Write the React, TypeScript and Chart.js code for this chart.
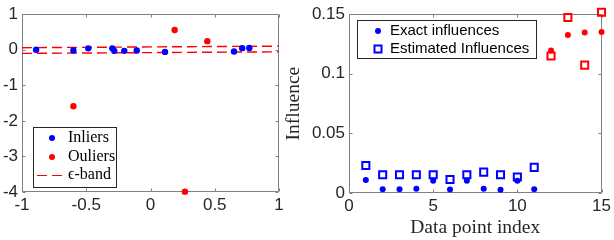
import React, { useEffect, useRef } from "react";
import { Chart, registerables } from "chart.js";

Chart.register(...registerables);

// ---------- Left panel data ----------
const inlierX = [-0.89, -0.6, -0.484, -0.297, -0.282, -0.204, -0.107, 0.113, 0.65, 0.714, 0.769];
const inlierY = [0.0, -0.02, 0.04, 0.04, -0.03, -0.03, -0.02, -0.06, -0.05, 0.045, 0.05];
const outlierX = [-0.6, 0.188, 0.268, 0.442];
const outlierY = [-1.59, 0.556, -3.99, 0.242];
const bandX = [-1, 1];
const bandUpper = [0.058, 0.102];
const bandLower = [-0.102, -0.058];
const leftXTicks = [-1, -0.5, 0, 0.5, 1];
const leftYTicks = [1, 0, -1, -2, -3, -4];
const leftLabels = ["Inliers", "Ouliers", "\u03f5-band"];

// ---------- Right panel data ----------
const pointIndex = [1, 2, 3, 4, 5, 6, 7, 8, 9, 10, 11, 12, 13, 14, 15];
const exactInfluence = [0.011, 0.0032, 0.0032, 0.0035, 0.0102, 0.003, 0.0102, 0.0035, 0.0027, 0.0102, 0.0032, 0.1196, 0.1325, 0.1347, 0.135];
const estimatedInfluence = [0.0231, 0.0153, 0.0153, 0.0153, 0.0153, 0.0113, 0.0153, 0.0175, 0.0153, 0.0134, 0.0215, 0.115, 0.1473, 0.1073, 0.1516];
const outlierIndexStart = 12;
const rightXTicks = [0, 5, 10, 15];
const rightYTicks = [0, 0.05, 0.1, 0.15];
const rightLabels = ["Exact influences", "Estimated Influences"];
const rightXTitle = "Data point index";
const rightYTitle = "Influence";

const BLUE = "#0000ff";
const RED = "#ff0000";
const AXIS = "#808080";
const TEXT = "#262626";
const SANS = "'Liberation Sans', Arial, sans-serif";
const SERIF = "'Liberation Serif', 'Times New Roman', serif";

const boxPlugin = {
  id: "matlabBox",
  beforeDatasetsDraw(chart: any) {
    const { ctx, chartArea } = chart;
    const l = Math.round(chartArea.left) + 0.5;
    const r = Math.round(chartArea.right) - 0.5;
    const t = Math.round(chartArea.top) + 0.5;
    const b = Math.round(chartArea.bottom) - 0.5;
    ctx.save();
    ctx.strokeStyle = AXIS;
    ctx.lineWidth = 1;
    ctx.beginPath();
    ctx.rect(l, t, r - l, b - t);
    ctx.stroke();
    const tl = 3;
    const xs = chart.scales.x;
    const ys = chart.scales.y;
    ctx.beginPath();
    xs.ticks.forEach((tk: any) => {
      const px = Math.round(xs.getPixelForValue(tk.value)) + 0.5;
      ctx.moveTo(px, b);
      ctx.lineTo(px, b - tl);
      ctx.moveTo(px, t);
      ctx.lineTo(px, t + tl);
    });
    ys.ticks.forEach((tk: any) => {
      const py = Math.round(ys.getPixelForValue(tk.value)) + 0.5;
      ctx.moveTo(l, py);
      ctx.lineTo(l + tl, py);
      ctx.moveTo(r, py);
      ctx.lineTo(r - tl, py);
    });
    ctx.stroke();
    ctx.restore();
  },
};

function drawDot(ctx: CanvasRenderingContext2D, x: number, y: number, r: number, color: string) {
  ctx.beginPath();
  ctx.fillStyle = color;
  ctx.arc(x, y, r, 0, Math.PI * 2);
  ctx.fill();
}

const leftLegendPlugin = {
  id: "leftLegend",
  afterDraw(chart: any) {
    const { ctx, chartArea } = chart;
    const x0 = Math.round(chartArea.left) + 11;
    const y0 = Math.round(chartArea.bottom) - 65;
    const w = 83;
    const h = 60;
    ctx.save();
    ctx.fillStyle = "#fff";
    ctx.fillRect(x0, y0, w, h);
    ctx.strokeStyle = TEXT;
    ctx.lineWidth = 1;
    ctx.strokeRect(x0 + 0.5, y0 + 0.5, w, h);
    const rows = [y0 + 11, y0 + 30, y0 + 48];
    const ds = chart.data.datasets;
    ctx.font = `16px ${SERIF}`;
    ctx.textBaseline = "middle";
    ctx.textAlign = "left";
    leftLabels.forEach((lab, i) => {
      const y = rows[i];
      if (i < 2) {
        drawDot(ctx, x0 + 19, y, 3, ds[i].pointBackgroundColor);
      } else {
        ctx.beginPath();
        ctx.strokeStyle = ds[2].borderColor;
        ctx.setLineDash([10, 5]);
        ctx.moveTo(x0 + 4, y + 0.5);
        ctx.lineTo(x0 + 29, y + 0.5);
        ctx.stroke();
        ctx.setLineDash([]);
      }
      ctx.fillStyle = "#000";
      ctx.fillText(lab, x0 + 35, y);
    });
    ctx.restore();
  },
};

const rightLegendPlugin = {
  id: "rightLegend",
  afterDraw(chart: any) {
    const { ctx, chartArea } = chart;
    const x0 = Math.round(chartArea.left) + 8;
    const y0 = Math.round(chartArea.top) + 6;
    const w = 179;
    const h = 38;
    ctx.save();
    ctx.fillStyle = "#fff";
    ctx.fillRect(x0, y0, w, h);
    ctx.strokeStyle = TEXT;
    ctx.lineWidth = 1;
    ctx.strokeRect(x0 + 0.5, y0 + 0.5, w, h);
    const rows = [y0 + 11, y0 + 29];
    ctx.font = `15px ${SANS}`;
    ctx.textBaseline = "middle";
    ctx.textAlign = "left";
    rightLabels.forEach((lab, i) => {
      const y = rows[i];
      const mx = x0 + 21;
      if (i === 0) {
        drawDot(ctx, mx, y, 3, BLUE);
      } else {
        ctx.strokeStyle = BLUE;
        ctx.lineWidth = 2;
        ctx.strokeRect(mx - 3.5, y - 3.5, 7, 7);
      }
      ctx.fillStyle = "#000";
      ctx.fillText(lab, x0 + 33, y);
    });
    ctx.restore();
  },
};

function tickSetter(values: number[]) {
  return (scale: any) => {
    scale.ticks = values.map((v) => ({ value: v }));
  };
}

function leftConfig(): any {
  return {
    type: "scatter",
    data: {
      datasets: [
        {
          label: leftLabels[0],
          data: inlierX.map((x, i) => ({ x, y: inlierY[i] })),
          pointRadius: 3.2,
          pointBackgroundColor: BLUE,
          pointBorderColor: BLUE,
          pointBorderWidth: 0,
          clip: false,
        },
        {
          label: leftLabels[1],
          data: outlierX.map((x, i) => ({ x, y: outlierY[i] })),
          pointRadius: 3.2,
          pointBackgroundColor: RED,
          pointBorderColor: RED,
          pointBorderWidth: 0,
          clip: false,
        },
        {
          label: leftLabels[2],
          data: bandX.map((x, i) => ({ x, y: bandUpper[i] })),
          showLine: true,
          borderColor: RED,
          borderWidth: 1.4,
          borderDash: [10, 5],
          pointRadius: 0,
        },
        {
          label: "",
          data: bandX.map((x, i) => ({ x, y: bandLower[i] })),
          showLine: true,
          borderColor: RED,
          borderWidth: 1.4,
          borderDash: [10, 5],
          pointRadius: 0,
        },
      ],
    },
    options: {
      animation: false,
      responsive: false,
      devicePixelRatio: 1,
      layout: { padding: { top: 6, right: 21, left: 0, bottom: 0 } },
      plugins: { legend: { display: false }, tooltip: { enabled: false } },
      scales: {
        x: {
          type: "linear",
          min: -1,
          max: 1,
          afterBuildTicks: tickSetter(leftXTicks),
          afterFit: (s: any) => {
            s.height = 48;
          },
          grid: { display: false, drawTicks: false },
          border: { display: false },
          ticks: { font: { family: SANS, size: 17 }, color: TEXT, padding: 3, maxRotation: 0, callback: (v: any) => String(v) },
        },
        y: {
          type: "linear",
          min: -4,
          max: 1,
          afterBuildTicks: tickSetter(leftYTicks),
          afterFit: (s: any) => {
            s.width = 22;
          },
          grid: { display: false, drawTicks: false },
          border: { display: false },
          ticks: { font: { family: SANS, size: 17 }, color: TEXT, padding: 4, callback: (v: any) => String(v) },
        },
      },
    },
    plugins: [boxPlugin, leftLegendPlugin],
  };
}

function rightConfig(): any {
  const colorOf = (c: any) => (c.raw && c.raw.x >= outlierIndexStart ? RED : BLUE);
  return {
    type: "scatter",
    data: {
      datasets: [
        {
          label: rightLabels[0],
          data: pointIndex.map((x, i) => ({ x, y: exactInfluence[i] })),
          pointStyle: "circle",
          pointRadius: 3,
          pointBackgroundColor: colorOf,
          pointBorderColor: colorOf,
          pointBorderWidth: 0,
          clip: false,
        },
        {
          label: rightLabels[1],
          data: pointIndex.map((x, i) => ({ x, y: estimatedInfluence[i] })),
          pointStyle: "rect",
          pointRadius: 5,
          pointBackgroundColor: "rgba(0,0,0,0)",
          pointBorderColor: colorOf,
          pointBorderWidth: 2,
          clip: false,
        },
      ],
    },
    options: {
      animation: false,
      responsive: false,
      devicePixelRatio: 1,
      layout: { padding: { top: 7, right: 9, left: 0, bottom: 0 } },
      plugins: { legend: { display: false }, tooltip: { enabled: false } },
      scales: {
        x: {
          type: "linear",
          min: 0,
          max: 15,
          afterBuildTicks: tickSetter(rightXTicks),
          afterFit: (s: any) => {
            s.height = 47;
          },
          grid: { display: false, drawTicks: false },
          border: { display: false },
          ticks: { font: { family: SANS, size: 17 }, color: TEXT, padding: 3, maxRotation: 0, callback: (v: any) => String(v) },
          title: {
            display: true,
            text: rightXTitle,
            font: { family: SERIF, size: 19.5 },
            color: TEXT,
            padding: { top: 0, bottom: 0 },
          },
        },
        y: {
          type: "linear",
          min: 0,
          max: 0.15,
          afterBuildTicks: tickSetter(rightYTicks),
          afterFit: (s: any) => {
            s.width = 69;
          },
          grid: { display: false, drawTicks: false },
          border: { display: false },
          ticks: { font: { family: SANS, size: 17 }, color: TEXT, padding: 4, callback: (v: any) => String(v) },
          title: {
            display: true,
            text: rightYTitle,
            font: { family: SERIF, size: 19.5 },
            color: TEXT,
            padding: { top: 2, bottom: 0 },
          },
        },
      },
    },
    plugins: [boxPlugin, rightLegendPlugin],
  };
}

export default function App() {
  const leftRef = useRef<HTMLCanvasElement>(null);
  const rightRef = useRef<HTMLCanvasElement>(null);
  useEffect(() => {
    const l = new Chart(leftRef.current as HTMLCanvasElement, leftConfig());
    const r = new Chart(rightRef.current as HTMLCanvasElement, rightConfig());
    return () => {
      l.destroy();
      r.destroy();
    };
  }, []);
  return (
    <div style={{ position: "fixed", left: 0, top: 0, width: 614, height: 240, background: "#fff" }}>
      <canvas
        ref={leftRef}
        width={300}
        height={240}
        style={{ position: "absolute", left: 0, top: 0, width: 300, height: 240 }}
      />
      <canvas
        ref={rightRef}
        width={334}
        height={240}
        style={{ position: "absolute", left: 280, top: 0, width: 334, height: 240 }}
      />
    </div>
  );
}
